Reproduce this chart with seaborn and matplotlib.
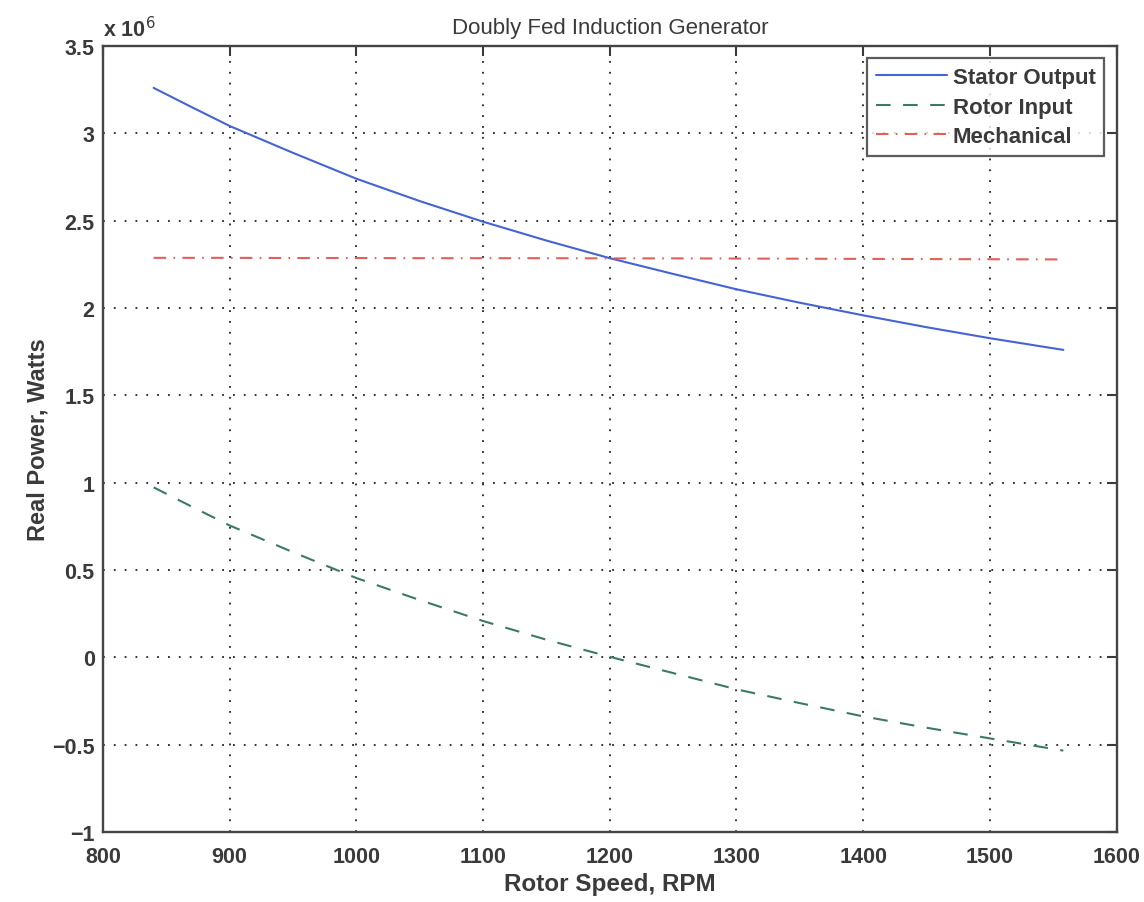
import numpy as np
import pandas as pd
import matplotlib
matplotlib.use("Agg")
import matplotlib.pyplot as plt
from matplotlib.ticker import FuncFormatter, MultipleLocator
import seaborn as sns

# Data
rpm = [840, 870, 900, 950, 1000, 1050, 1100, 1150, 1200, 1250, 1300, 1350, 1400, 1450, 1500, 1558]
stator_w = [3.260e6, 3.150e6, 3.042e6, 2.888e6, 2.740e6, 2.612e6, 2.494e6, 2.386e6, 2.285e6,
            2.195e6, 2.107e6, 2.030e6, 1.958e6, 1.890e6, 1.827e6, 1.760e6]
rotor_w = [0.973e6, 0.863e6, 0.755e6, 0.602e6, 0.454e6, 0.328e6, 0.208e6, 0.101e6, 0.003e6,
           -0.090e6, -0.183e6, -0.262e6, -0.338e6, -0.403e6, -0.464e6, -0.534e6]
mech_w = [2.287e6, 2.287e6, 2.287e6, 2.286e6, 2.286e6, 2.285e6, 2.285e6, 2.285e6, 2.284e6,
          2.284e6, 2.283e6, 2.282e6, 2.281e6, 2.280e6, 2.279e6, 2.278e6]
series_names = ["Stator Output", "Rotor Input", "Mechanical"]
x_ticks = [800, 900, 1000, 1100, 1200, 1300, 1400, 1500, 1600]

df = pd.DataFrame({
    "rpm": rpm * 3,
    "power": stator_w + rotor_w + mech_w,
    "series": [series_names[0]] * len(rpm) + [series_names[1]] * len(rpm) + [series_names[2]] * len(rpm),
})

sns.set_theme(style="white")
plt.rcParams["font.family"] = ["Liberation Sans", "DejaVu Sans"]

fig = plt.figure(figsize=(11.44, 9.03), dpi=100)
ax = fig.add_axes([0.090, 0.0775, 0.886, 0.8705])

colors = {"Stator Output": "#4663d4", "Rotor Input": "#3d7868", "Mechanical": "#e0605a"}
styles = {"Stator Output": "-", "Rotor Input": (0, (7, 6)), "Mechanical": (0, (6, 3.5, 0.8, 3.5))}

for name in series_names:
    sub = df[df["series"] == name]
    sns.lineplot(data=sub, x="rpm", y="power", ax=ax, color=colors[name],
                 linestyle=styles[name], linewidth=1.5, label=name, estimator=None, sort=True)

txt = "#3a3a3a"
ax.set_xlim(800, 1600)
ax.set_ylim(-1e6, 3.5e6)
ax.set_xticks(x_ticks)
ax.yaxis.set_major_locator(MultipleLocator(0.5e6))
ax.yaxis.set_major_formatter(FuncFormatter(lambda v, p: f"{v/1e6:g}".replace("-", "\u2212")))

ax.grid(True, color="#222222", linestyle=(0, (1, 5)), linewidth=1.3)
ax.tick_params(direction="in", length=7, width=1.5, top=True, right=True,
               labelsize=15.5, colors=txt)
ax.tick_params(axis="x", pad=10)
ax.tick_params(axis="y", pad=6)
for lab in ax.get_xticklabels() + ax.get_yticklabels():
    lab.set_fontweight("bold")
for s in ax.spines.values():
    s.set_visible(True)
    s.set_color("#444444")
    s.set_linewidth(1.7)

ax.set_xlabel("Rotor Speed, RPM", fontsize=17.5, fontweight="bold", color=txt, labelpad=4)
ax.set_ylabel("Real Power, Watts", fontsize=17, fontweight="bold", color=txt, labelpad=2)
ax.set_title("Doubly Fed Induction Generator", fontsize=16, color=txt, pad=9)
ax.text(0.0, 1.006, r"x 10$^{6}$", transform=ax.transAxes, fontsize=15.5,
        color=txt, ha="left", va="bottom", fontweight="bold")

leg = ax.legend(loc="upper right", frameon=True, fancybox=False,
                borderaxespad=0.55, handlelength=3.2, labelspacing=0.38, borderpad=0.4,
                handletextpad=0.25, prop={"size": 16, "weight": "bold"})
leg.get_frame().set_edgecolor("#333333")
leg.get_frame().set_linewidth(1.6)
for t in leg.get_texts():
    t.set_color(txt)

fig.savefig("out.png", dpi=100)
